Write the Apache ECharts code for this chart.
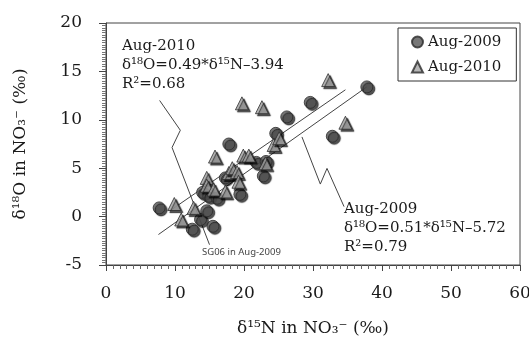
<!DOCTYPE html>
<html><head><meta charset="utf-8">
<script src="https://cdn.jsdelivr.net/npm/echarts@6/dist/echarts.min.js"></script>
<style>html,body{margin:0;padding:0;background:#fff}#c{width:529px;height:337px}</style>
</head><body><div id="c"></div>
<script>
// ---- data ----
const xTicks = [0, 10, 20, 30, 40, 50, 60];
const yTicks = [-5, 0, 5, 10, 15, 20];
const seriesNames = ['Aug-2009', 'Aug-2010'];
const aug2009 = [[7.7,0.9],[12.5,-1.3],[13.7,-0.3],[14.6,0.6],[15.5,-1.0],[14.0,2.5],[14.9,2.1],[16.1,1.9],[17.3,4.0],[19.4,2.3],[17.8,7.5],[21.8,5.6],[22.8,4.2],[23.2,5.7],[24.6,8.6],[26.2,10.3],[29.6,11.8],[32.8,8.3],[37.8,13.4]];
const aug2010 = [[9.9,1.3],[10.9,-0.3],[12.7,0.9],[14.6,4.0],[14.6,3.2],[15.6,2.8],[17.3,2.6],[15.8,6.2],[17.8,4.5],[18.3,5.0],[19.0,4.6],[19.2,3.6],[19.9,6.3],[20.7,6.3],[19.7,11.7],[22.6,11.3],[23.1,5.5],[24.3,7.4],[25.1,8.1],[32.2,14.1],[34.7,9.7]];
const fitLine2009 = [[7.6,-1.85],[37.8,13.4]];
const fitLine2010 = [[9.3,0.62],[34.7,13.1]];
const leader2010 = [[7.77,12.0],[10.77,8.92],[9.57,7.14],[15.0,-2.9]];
const leader2009 = [[28.4,8.23],[31.06,3.36],[32.03,4.98],[34.5,1.03]];
const note2010 = ['Aug-2010', 'δ¹⁸O=0.49*δ¹⁵N–3.94', 'R²=0.68'];
const note2009 = ['Aug-2009', 'δ¹⁸O=0.51*δ¹⁵N–5.72', 'R²=0.79'];
const noteSG06 = 'SG06 in Aug-2009';
const xTitle = 'δ¹⁵N in NO₃⁻ (‰)';
const yTitle = 'δ¹⁸O in NO₃⁻ (‰)';

// ---- chart ----
const SERIF = 'DejaVu Serif';
const chart = echarts.init(document.getElementById('c'), null, {renderer: 'canvas'});
const lineStyle = {color: '#444', width: 1};
function textLines(lines, left, top, gap) {
  return lines.map((t, i) => ({
    type: 'text', left: left, top: top + i * gap, silent: true,
    style: {text: t, fontFamily: SERIF, fontSize: 15, fill: '#1a1a1a'}
  }));
}
chart.setOption({
  animation: false,
  backgroundColor: '#fff',
  grid: {left: 106, right: 9, top: 23, bottom: 72, show: true, borderColor: '#444', borderWidth: 1,
         containLabel: false, outerBoundsMode: 'none'},
  legend: {
    data: seriesNames, orient: 'vertical', left: 398, top: 28,
    itemWidth: 11, itemHeight: 11, itemGap: 7, padding: [5, 15, 5, 13],
    borderColor: '#333', borderWidth: 1,
    textStyle: {fontFamily: SERIF, fontSize: 15, color: '#1a1a1a', lineHeight: 18}
  },
  xAxis: {
    type: 'value', min: xTicks[0], max: xTicks[xTicks.length - 1], interval: xTicks[1] - xTicks[0],
    splitLine: {show: false},
    axisLine: {onZero: false, lineStyle: {color: '#444'}},
    axisTick: {length: 6, lineStyle: {color: '#444'}},
    minorTick: {show: true, splitNumber: 10, length: 4, lineStyle: {color: '#666'}},
    axisLabel: {fontFamily: SERIF, fontSize: 17, color: '#1a1a1a', margin: 20},
    name: xTitle, nameLocation: 'middle', nameGap: 55,
    nameTextStyle: {fontFamily: SERIF, fontSize: 17, color: '#1a1a1a'}
  },
  yAxis: {
    type: 'value', min: yTicks[0], max: yTicks[yTicks.length - 1], interval: yTicks[1] - yTicks[0],
    splitLine: {show: false},
    axisLine: {onZero: false, lineStyle: {color: '#444'}},
    axisTick: {length: 7, lineStyle: {color: '#444'}},
    minorTick: {show: true, splitNumber: 20, length: 4, lineStyle: {color: '#777'}},
    axisLabel: {fontFamily: SERIF, fontSize: 17, color: '#1a1a1a', margin: 24},
    name: yTitle, nameLocation: 'middle', nameGap: 77,
    nameTextStyle: {fontFamily: SERIF, fontSize: 17, color: '#1a1a1a'}
  },
  series: [
    {type: 'line', data: fitLine2009, symbol: 'none', lineStyle: lineStyle, silent: true, z: 1},
    {type: 'line', data: fitLine2010, symbol: 'none', lineStyle: lineStyle, silent: true, z: 1},
    {type: 'line', data: leader2010, symbol: 'none', lineStyle: lineStyle, silent: true, z: 1},
    {type: 'line', data: leader2009, symbol: 'none', lineStyle: lineStyle, silent: true, z: 1},
    {name: seriesNames[0], type: 'scatter', data: aug2009, symbol: 'circle', symbolSize: 12, z: 3,
     itemStyle: {color: '#555', borderColor: '#2a2a2a', borderWidth: 1, shadowColor: 'rgba(0,0,0,0.85)', shadowOffsetX: 2, shadowOffsetY: 2, shadowBlur: 1}},
    {name: seriesNames[1], type: 'scatter', data: aug2010, symbol: 'triangle', symbolSize: 13, z: 4,
     itemStyle: {color: '#a5a5a5', borderColor: '#2a2a2a', borderWidth: 1, shadowColor: 'rgba(0,0,0,0.85)', shadowOffsetX: 2, shadowOffsetY: 2, shadowBlur: 1}}
  ],
  graphic: [].concat(
    textLines(note2010, 122, 39, 19),
    textLines(note2009, 344, 202, 19),
    [{type: 'text', left: 202, top: 247, silent: true,
      style: {text: noteSG06, fontFamily: 'Noto Sans', fontSize: 9.5, fill: '#444'}}]
  )
});
</script></body></html>
